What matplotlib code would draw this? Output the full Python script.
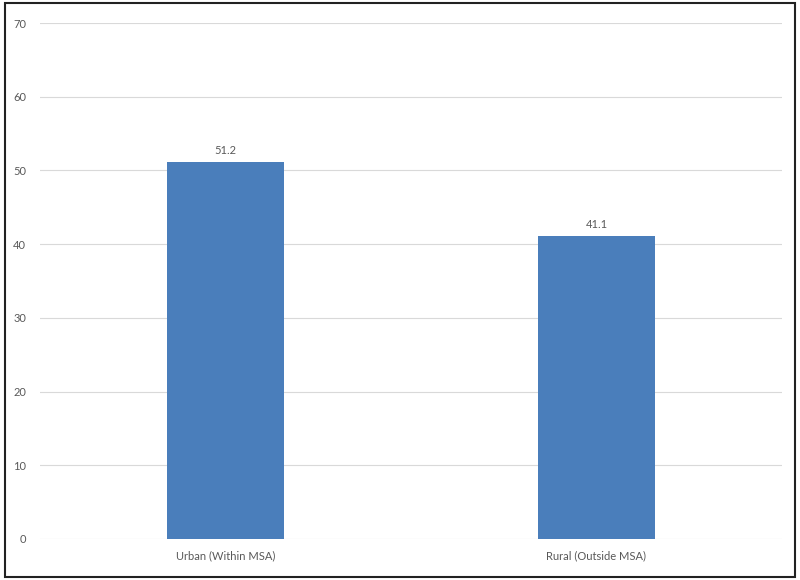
import numpy as np
import matplotlib.pyplot as plt
from matplotlib.patches import Rectangle

categories = ['Urban (Within MSA)', 'Rural (Outside MSA)']
values = [51.2, 41.1]
yticks = np.arange(0, 71, 10)

plt.rcParams['font.family'] = ['Lato', 'DejaVu Sans']

fig = plt.figure(figsize=(8, 5.8), dpi=100)
ax = fig.add_axes([0.05, 0.0707, 0.9275, 0.8896])

x = np.arange(len(categories))
ax.bar(x, values, width=0.315, color='#4a7ebb', zorder=3)
for xi, v in zip(x, values):
    ax.text(xi, v + 0.8, f'{v:.1f}', ha='center', va='bottom', fontsize=8, color='#595959')

ax.set_xlim(-0.5, 1.5)
ax.set_ylim(0, 70)
ax.set_yticks(yticks)
ax.set_xticks(x)
ax.set_xticklabels(categories)
ax.tick_params(axis='both', length=0, labelsize=8, colors='#595959')
ax.tick_params(axis='y', pad=10)
ax.tick_params(axis='x', pad=8)
ax.yaxis.grid(True, color='#d9d9d9', linewidth=0.8, zorder=0)
for s in ax.spines.values():
    s.set_visible(False)

fig.patches.append(Rectangle((0.006, 0.006), 0.988, 0.988, transform=fig.transFigure,
                             fill=False, edgecolor='#222222', linewidth=1.5))

plt.savefig('out.png', dpi=100)
